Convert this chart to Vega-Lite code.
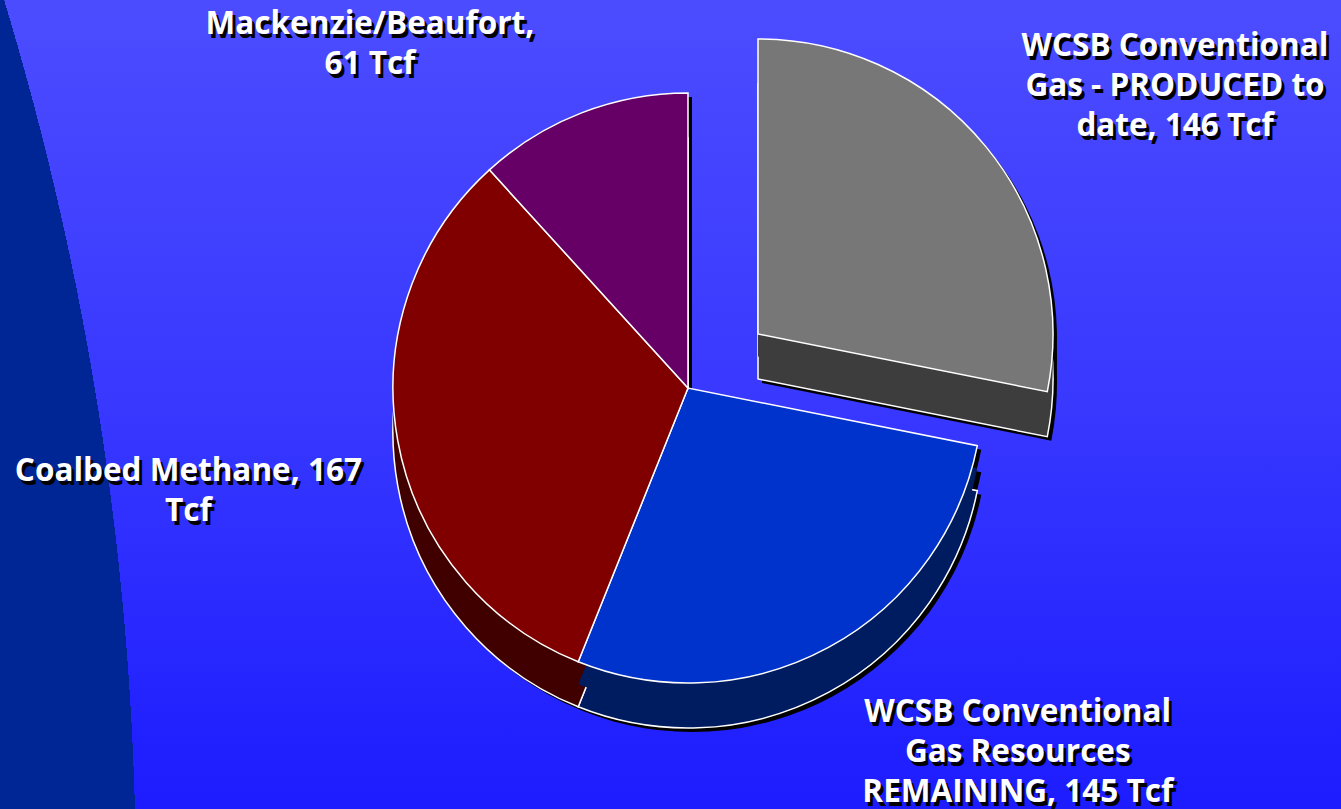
{
  "$schema": "https://vega.github.io/schema/vega-lite/v6.json",
  "width": 1341,
  "height": 809,
  "autosize": "none",
  "padding": 0,
  "background": "#3434ff",
  "config": {"view": {"stroke": null}},
  "layer": [
    {
      "data": {"values": [{"bg": "sky"}]},
      "mark": {"type": "rect", "fill": {"gradient": "linear", "x1": 0, "y1": 0, "x2": 0, "y2": 1, "stops": [{"offset": 0, "color": "#4c4cff"}, {"offset": 0.5, "color": "#3838ff"}, {"offset": 1, "color": "#1c1cff"}]}},
      "encoding": {}
    },
    {
      "data": {"values": [{"bg": "arc"}]},
      "mark": {"type": "rect", "fill": {"gradient": "radial", "x1": -2.18195, "y1": 0.8613, "r1": 0, "x2": -2.18195, "y2": 0.8613, "r2": 4.5667, "stops": [{"offset": 0, "color": "#002696"}, {"offset": 0.5, "color": "#002696"}, {"offset": 0.5, "color": "rgba(0,0,0,0)"}, {"offset": 1, "color": "rgba(0,0,0,0)"}]}},
      "encoding": {}
    },
    {
      "data": {"values": [
        {"source": "WCSB Conventional Gas - PRODUCED to date", "tcf": 146, "order": 1, "label": "WCSB Conventional\nGas - PRODUCED to\ndate, 146 Tcf"},
        {"source": "WCSB Conventional Gas Resources REMAINING", "tcf": 145, "order": 2, "label": "WCSB Conventional\nGas Resources\nREMAINING, 145 Tcf"},
        {"source": "Coalbed Methane", "tcf": 167, "order": 3, "label": "Coalbed Methane, 167\nTcf"},
        {"source": "Mackenzie/Beaufort", "tcf": 61, "order": 4, "label": "Mackenzie/Beaufort,\n61 Tcf"}
      ]},
      "transform": [
        {"stack": "tcf", "groupby": [], "sort": [{"field": "order", "order": "ascending"}], "as": ["t0", "t1"]}
      ],
      "encoding": {
        "theta": {"field": "t0", "type": "quantitative", "scale": {"domain": [0, 519]}},
        "theta2": {"field": "t1"}
      },
      "layer": [
        {"transform": [{"filter": "datum.order != 1"}], "mark": {"type": "arc", "outerRadius": 295, "fill": "black", "xOffset": 21.5, "yOffset": -12.5}},
        {"transform": [{"filter": "datum.order != 1"}], "mark": {"type": "arc", "outerRadius": 295, "fill": "black", "xOffset": 21.5, "yOffset": 10}},
        {"transform": [{"filter": "datum.order != 1"}], "mark": {"type": "arc", "outerRadius": 295, "fill": "black", "xOffset": 21.5, "yOffset": 32.5}},
        {"transform": [{"filter": "datum.order == 1"}], "mark": {"type": "arc", "outerRadius": 295, "fill": "black", "xOffset": 91.5, "yOffset": -66.5}},
        {"transform": [{"filter": "datum.order == 1"}], "mark": {"type": "arc", "outerRadius": 295, "fill": "black", "xOffset": 91.5, "yOffset": -44}},
        {"transform": [{"filter": "datum.order == 1"}], "mark": {"type": "arc", "outerRadius": 295, "fill": "black", "xOffset": 91.5, "yOffset": -21.5}},
        {
          "transform": [{"filter": "datum.order != 1"}],
          "mark": {"type": "arc", "outerRadius": 295, "stroke": "white", "strokeWidth": 1.5, "xOffset": 17.5, "yOffset": 28.5},
          "encoding": {"fill": {"field": "source", "type": "nominal", "legend": null, "scale": {"domain": ["WCSB Conventional Gas - PRODUCED to date", "WCSB Conventional Gas Resources REMAINING", "Coalbed Methane", "Mackenzie/Beaufort"], "range": ["#3d3d3d", "#001c60", "#400000", "#330033"]}}}
        },
        {
          "transform": [{"filter": "datum.order != 1"}],
          "mark": {"type": "arc", "outerRadius": 295, "xOffset": 17.5, "yOffset": 6},
          "encoding": {"fill": {"field": "source", "type": "nominal", "legend": null}}
        },
        {
          "transform": [{"filter": "datum.order != 1"}],
          "mark": {"type": "arc", "outerRadius": 295, "stroke": "white", "strokeWidth": 1.5, "xOffset": 17.5, "yOffset": -16.5},
          "encoding": {"color": {"field": "source", "type": "nominal", "legend": null, "scale": {"domain": ["WCSB Conventional Gas - PRODUCED to date", "WCSB Conventional Gas Resources REMAINING", "Coalbed Methane", "Mackenzie/Beaufort"], "range": ["#777777", "#0033cc", "#800000", "#660066"]}}}
        },
        {
          "transform": [{"filter": "datum.order == 1"}],
          "mark": {"type": "arc", "outerRadius": 295, "stroke": "white", "strokeWidth": 1.5, "xOffset": 87.5, "yOffset": -25.5},
          "encoding": {"fill": {"field": "source", "type": "nominal", "legend": null}}
        },
        {
          "transform": [{"filter": "datum.order == 1"}],
          "mark": {"type": "arc", "outerRadius": 295, "xOffset": 87.5, "yOffset": -48},
          "encoding": {"fill": {"field": "source", "type": "nominal", "legend": null}}
        },
        {
          "transform": [{"filter": "datum.order == 1"}],
          "mark": {"type": "arc", "outerRadius": 295, "stroke": "white", "strokeWidth": 1.5, "xOffset": 87.5, "yOffset": -70.5},
          "encoding": {"color": {"field": "source", "type": "nominal", "legend": null}}
        },
        {"transform": [{"filter": "datum.order == 1"}], "mark": {"type": "text", "radius": 480, "lineBreak": "\n", "font": "Open Sans", "fontWeight": "bold", "fontSize": 31.5, "lineHeight": 40, "align": "center", "baseline": "alphabetic", "fill": "black", "xOffset": 17.5, "yOffset": -16.5, "dx": 490, "dy": 152}, "encoding": {"text": {"field": "label"}}},
        {"transform": [{"filter": "datum.order == 2"}], "mark": {"type": "text", "radius": 480, "lineBreak": "\n", "font": "Open Sans", "fontWeight": "bold", "fontSize": 31.5, "lineHeight": 40, "align": "center", "baseline": "alphabetic", "fill": "black", "xOffset": 17.5, "yOffset": -16.5, "dx": -138, "dy": 244}, "encoding": {"text": {"field": "label"}}},
        {"transform": [{"filter": "datum.order == 3"}], "mark": {"type": "text", "radius": 480, "lineBreak": "\n", "font": "Open Sans", "fontWeight": "bold", "fontSize": 31.5, "lineHeight": 40, "align": "center", "baseline": "alphabetic", "fill": "black", "xOffset": 17.5, "yOffset": -16.5, "dx": -318, "dy": -349}, "encoding": {"text": {"field": "label"}}},
        {"transform": [{"filter": "datum.order == 4"}], "mark": {"type": "text", "radius": 480, "lineBreak": "\n", "font": "Open Sans", "fontWeight": "bold", "fontSize": 31.5, "lineHeight": 40, "align": "center", "baseline": "alphabetic", "fill": "black", "xOffset": 17.5, "yOffset": -16.5, "dx": 8, "dy": 5}, "encoding": {"text": {"field": "label"}}},
        {"transform": [{"filter": "datum.order == 1"}], "mark": {"type": "text", "radius": 480, "lineBreak": "\n", "font": "Open Sans", "fontWeight": "bold", "fontSize": 31.5, "lineHeight": 40, "align": "center", "baseline": "alphabetic", "fill": "white", "xOffset": 17.5, "yOffset": -16.5, "dx": 487, "dy": 148}, "encoding": {"text": {"field": "label"}}},
        {"transform": [{"filter": "datum.order == 2"}], "mark": {"type": "text", "radius": 480, "lineBreak": "\n", "font": "Open Sans", "fontWeight": "bold", "fontSize": 31.5, "lineHeight": 40, "align": "center", "baseline": "alphabetic", "fill": "white", "xOffset": 17.5, "yOffset": -16.5, "dx": -141, "dy": 240}, "encoding": {"text": {"field": "label"}}},
        {"transform": [{"filter": "datum.order == 3"}], "mark": {"type": "text", "radius": 480, "lineBreak": "\n", "font": "Open Sans", "fontWeight": "bold", "fontSize": 31.5, "lineHeight": 40, "align": "center", "baseline": "alphabetic", "fill": "white", "xOffset": 17.5, "yOffset": -16.5, "dx": -321, "dy": -353}, "encoding": {"text": {"field": "label"}}},
        {"transform": [{"filter": "datum.order == 4"}], "mark": {"type": "text", "radius": 480, "lineBreak": "\n", "font": "Open Sans", "fontWeight": "bold", "fontSize": 31.5, "lineHeight": 40, "align": "center", "baseline": "alphabetic", "fill": "white", "xOffset": 17.5, "yOffset": -16.5, "dx": 5, "dy": 1}, "encoding": {"text": {"field": "label"}}}
      ]
    }
  ]
}
